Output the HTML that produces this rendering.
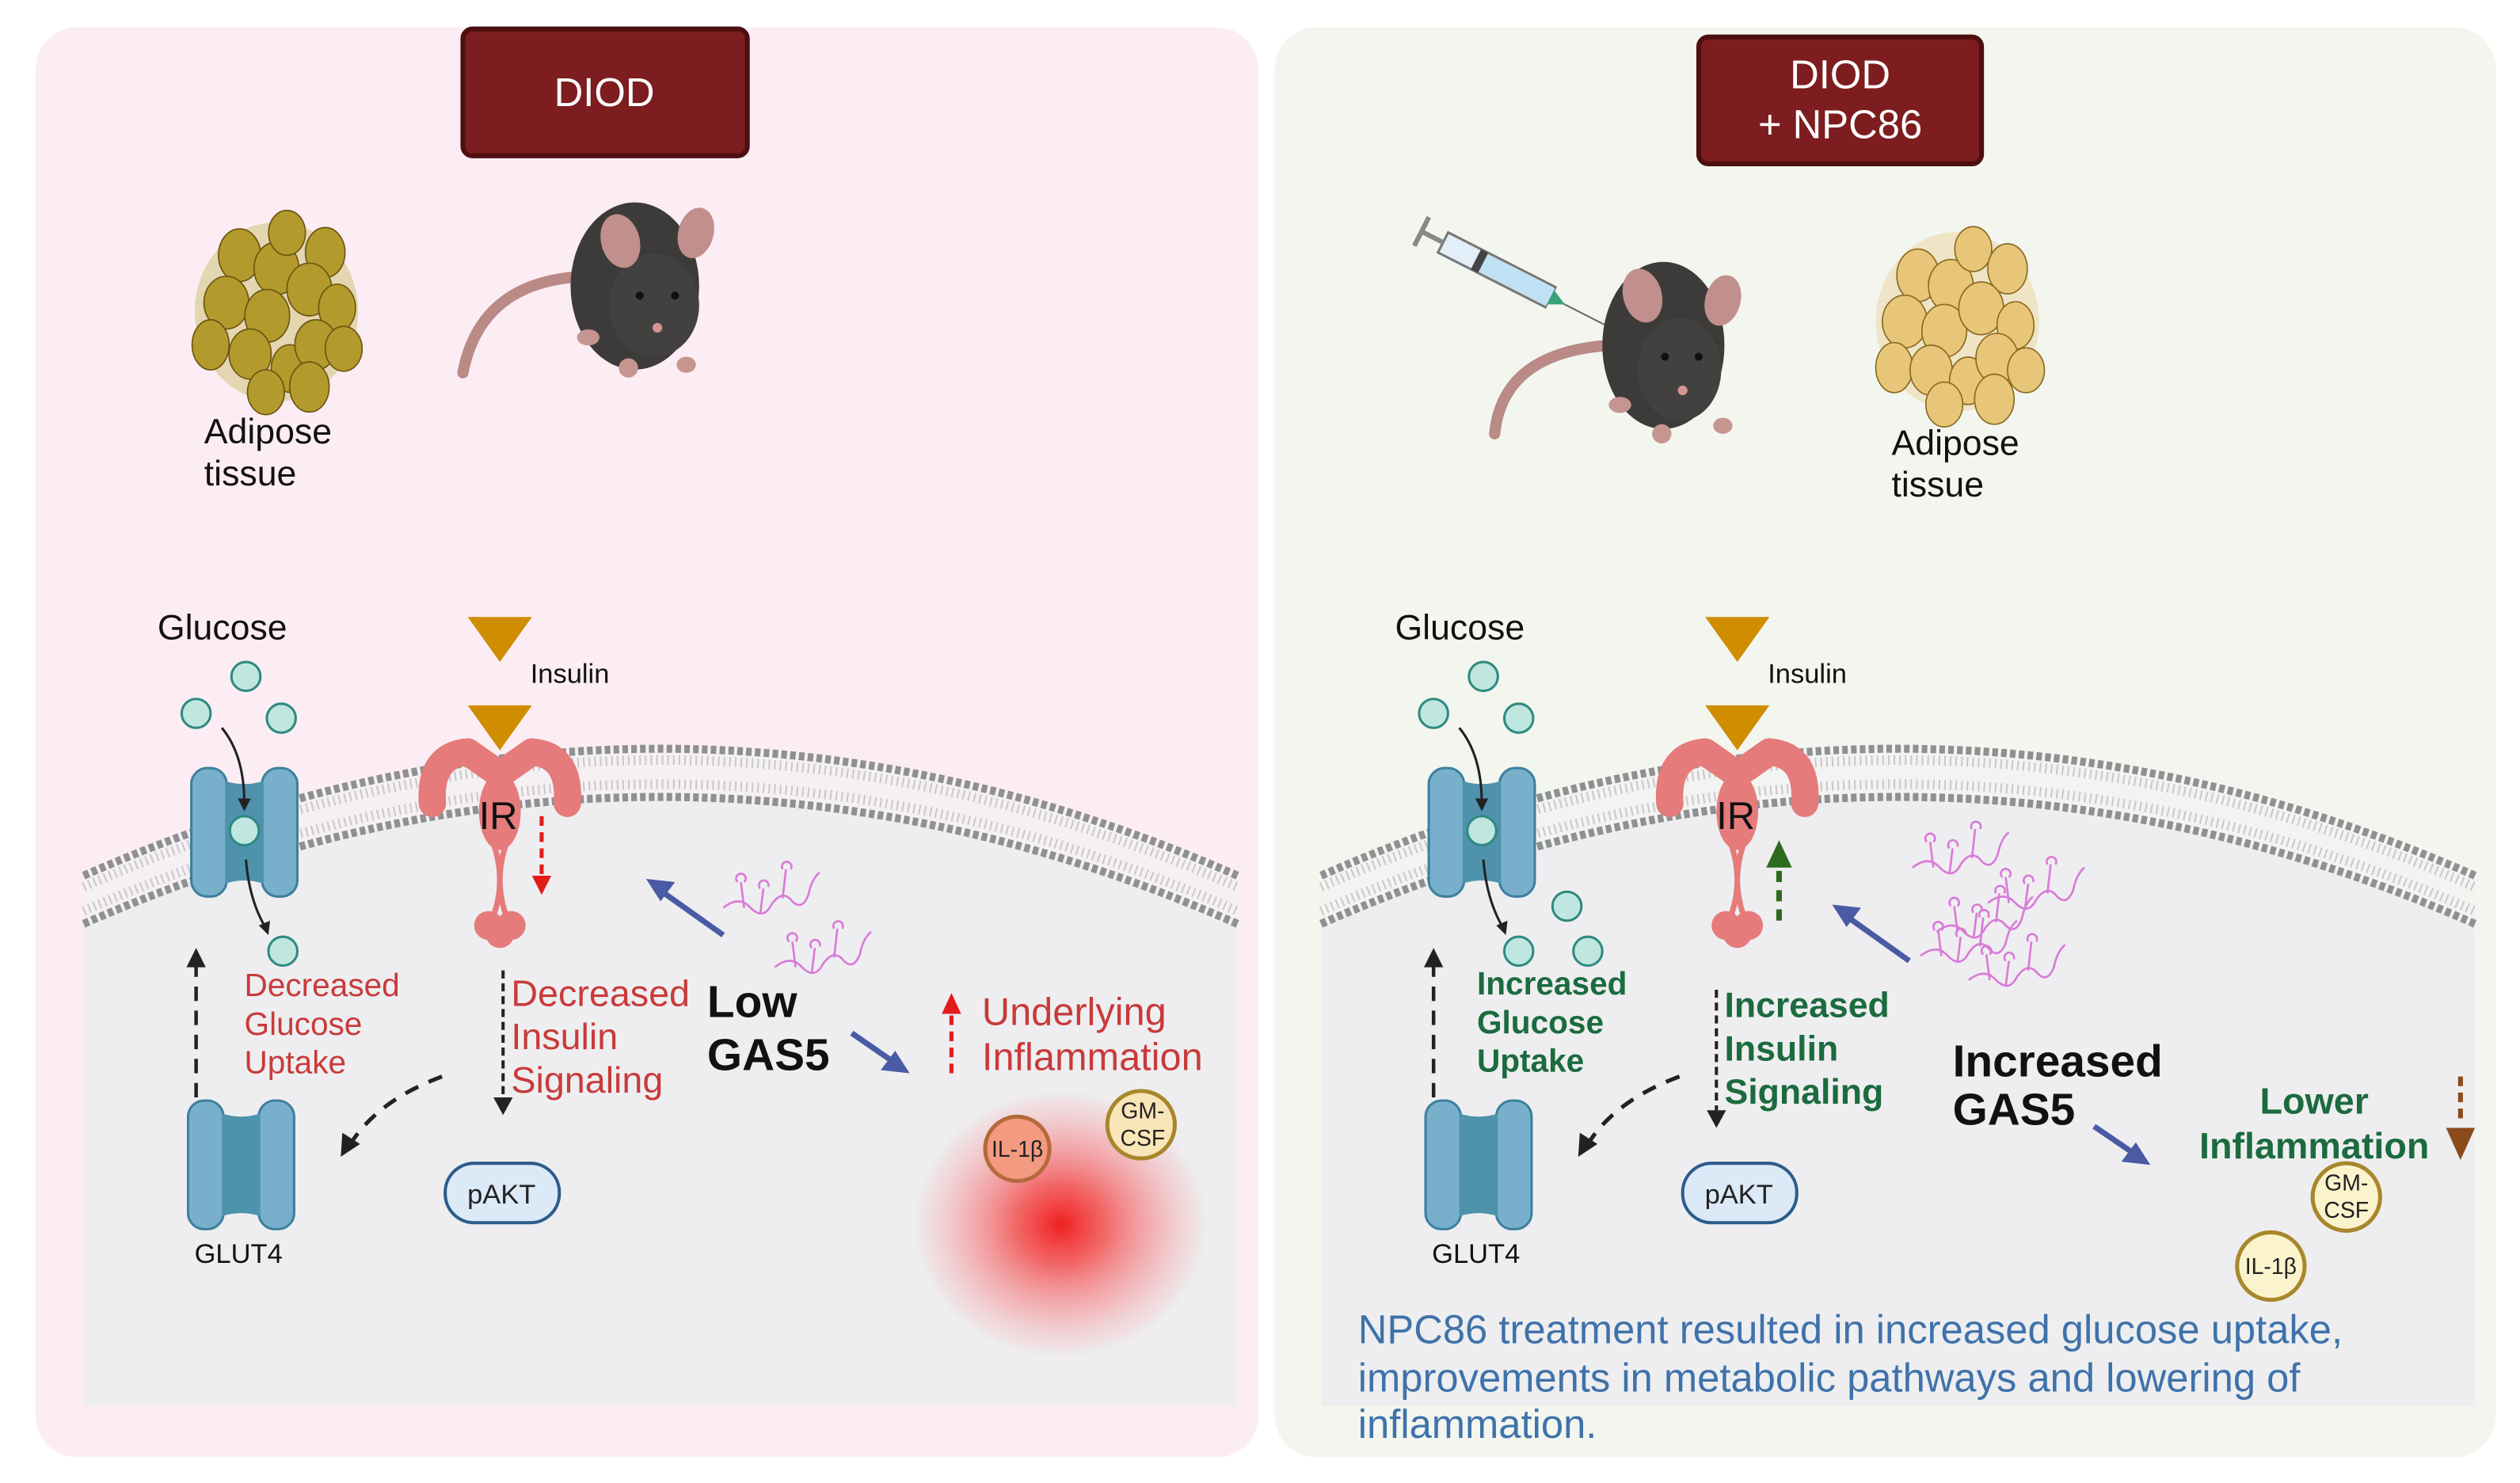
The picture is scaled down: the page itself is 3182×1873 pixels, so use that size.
<!DOCTYPE html>
<html><head><meta charset="utf-8"><style>
html,body{margin:0;padding:0;background:#fff}
svg{display:block}
text{font-family:"Liberation Sans",sans-serif}
</style></head><body>
<svg width="3182" height="1873" viewBox="0 0 1568 923" xmlns="http://www.w3.org/2000/svg">
<defs>
<radialGradient id="infl" cx="50%" cy="50%" r="50%">
<stop offset="0" stop-color="#f02020"/><stop offset="0.3" stop-color="#f35858" stop-opacity="0.9"/><stop offset="0.7" stop-color="#f4a0a4" stop-opacity="0.6"/><stop offset="0.92" stop-color="#f2c8cc" stop-opacity="0.35"/><stop offset="1" stop-color="#f0d8dc" stop-opacity="0"/>
</radialGradient>
<g id="chan">
<rect x="-33" y="-40" width="22" height="80" rx="10" fill="#78b0cc" stroke="#3e7f9e" stroke-width="1.5"/>
<rect x="11" y="-40" width="22" height="80" rx="10" fill="#78b0cc" stroke="#3e7f9e" stroke-width="1.5"/>
<path d="M-12,-32 Q0,-28 12,-32 L12,32 Q0,28 -12,32 Z" fill="#4f92ac"/>
</g>
<g id="ir">
<path d="M-42,30 Q-44,0 -20,-2 L0,12 L20,-2 Q44,0 42,30" fill="none" stroke="#e57b7b" stroke-width="17" stroke-linecap="round" stroke-linejoin="round"/>
<ellipse cx="0" cy="35" rx="13" ry="24" fill="#e57b7b"/>
<path d="M-4,55 Q4,78 -4,100 M4,55 Q-4,78 4,100" stroke="#e57b7b" stroke-width="3.5" fill="none"/>
<circle cx="-7" cy="106" r="9" fill="#e57b7b"/><circle cx="7" cy="106" r="9" fill="#e57b7b"/><circle cx="0" cy="111" r="9" fill="#e57b7b"/>
</g>
<path id="tri" d="M-20,0 L20,0 L0,28 Z"/>
<g id="rna" fill="none" stroke="#d97ad9" stroke-width="1.3">
<path d="M-25,10 Q-15,2 -8,10 Q0,18 5,8 Q12,-2 18,6 Q24,12 28,2 Q30,-8 35,-12"/>
<path d="M-12,10 L-14,-6 M-16,-6 a3,3 0 1 1 4,0 M-2,14 L0,-2 M-2,-2 a3,3 0 1 1 5,-1 M12,4 L14,-14 M12,-14 a3,3 0 1 1 5,0"/>
</g>
</defs>

<rect x="22" y="17" width="761" height="890" rx="26" fill="#fcedf4"/>
<rect x="793" y="17" width="760" height="890" rx="26" fill="#f3f6ef"/>

<g>
<path d="M52,558 Q411,400 770,558 L770,875 L52,875 Z" fill="#eeeef0"/>
<path d="M52,545 Q411,387 770,545 L770,575 Q411,417 52,575 Z" fill="#f5f0f3"/>
<path d="M52,545 Q411,387 770,545" fill="none" stroke="#8e9092" stroke-width="5" stroke-dasharray="3.5 2"/>
<path d="M52,575 Q411,417 770,575" fill="none" stroke="#8e9092" stroke-width="5" stroke-dasharray="3.5 2"/>
<path d="M52,552 Q411,394 770,552" fill="none" stroke="#c8c8cc" stroke-width="6" stroke-dasharray="1 2.5"/>
<path d="M52,567 Q411,409 770,567" fill="none" stroke="#c8c8cc" stroke-width="6" stroke-dasharray="1 2.5"/>
</g>
<g transform="translate(770,0)">
<path d="M52,558 Q411,400 770,558 L770,875 L52,875 Z" fill="#eeeef0"/>
<path d="M52,545 Q411,387 770,545 L770,575 Q411,417 52,575 Z" fill="#f3f3f1"/>
<path d="M52,545 Q411,387 770,545" fill="none" stroke="#8e9092" stroke-width="5" stroke-dasharray="3.5 2"/>
<path d="M52,575 Q411,417 770,575" fill="none" stroke="#8e9092" stroke-width="5" stroke-dasharray="3.5 2"/>
<path d="M52,552 Q411,394 770,552" fill="none" stroke="#c8c8cc" stroke-width="6" stroke-dasharray="1 2.5"/>
<path d="M52,567 Q411,409 770,567" fill="none" stroke="#c8c8cc" stroke-width="6" stroke-dasharray="1 2.5"/>
</g>

<rect x="288" y="18" width="177" height="79" rx="6" fill="#7d1d1f" stroke="#4d0f10" stroke-width="3"/>
<text x="376" y="66" font-size="25" fill="#fff" text-anchor="middle">DIOD</text>
<rect x="1057" y="23" width="176" height="79" rx="6" fill="#7d1d1f" stroke="#4d0f10" stroke-width="3"/>
<text x="1145" y="55" font-size="25" fill="#fff" text-anchor="middle">DIOD</text>
<text x="1145" y="86" font-size="25" fill="#fff" text-anchor="middle">+ NPC86</text>

<g transform="translate(172,190) scale(0.82)" stroke="#6b5510" stroke-width="1">
<ellipse cx="0" cy="5" rx="62" ry="68" fill="#e3d6b0" stroke="none"/>
<g fill="#b39a2c">
<ellipse cx="-28" cy="-38" rx="16" ry="20"/><ellipse cx="0" cy="-28" rx="17" ry="20"/><ellipse cx="8" cy="-55" rx="14" ry="17"/><ellipse cx="37" cy="-40" rx="15" ry="19"/>
<ellipse cx="-38" cy="-2" rx="17" ry="20"/><ellipse cx="-7" cy="8" rx="17" ry="20"/><ellipse cx="25" cy="-12" rx="17" ry="20"/><ellipse cx="46" cy="2" rx="14" ry="18"/>
<ellipse cx="-50" cy="30" rx="14" ry="19"/><ellipse cx="-20" cy="37" rx="16" ry="19"/><ellipse cx="10" cy="48" rx="14" ry="18"/><ellipse cx="30" cy="30" rx="16" ry="19"/><ellipse cx="51" cy="33" rx="14" ry="17"/>
<ellipse cx="-8" cy="66" rx="14" ry="17"/><ellipse cx="25" cy="62" rx="15" ry="19"/>
</g></g>
<text x="127" y="276" font-size="22" fill="#111">Adipose</text>
<text x="127" y="302" font-size="22" fill="#111">tissue</text>

<g>
<path d="M288,232 Q300,170 375,172" fill="none" stroke="#b98a86" stroke-width="7" stroke-linecap="round"/>
<ellipse cx="395" cy="178" rx="40" ry="52" fill="#3d3b3a"/>
<ellipse cx="407" cy="190" rx="28" ry="32" fill="#43413f"/>
<ellipse cx="386" cy="150" rx="12" ry="17" fill="#c18f8c" transform="rotate(-15 386 150)"/>
<ellipse cx="433" cy="145" rx="11" ry="16" fill="#c18f8c" transform="rotate(15 433 145)"/>
<circle cx="398" cy="184" r="2.5" fill="#111"/><circle cx="420" cy="184" r="2.5" fill="#111"/>
<circle cx="409" cy="204" r="3" fill="#d49595"/>
<ellipse cx="366" cy="210" rx="7" ry="5" fill="#c6958f"/><ellipse cx="391" cy="229" rx="6" ry="6" fill="#c6958f"/><ellipse cx="427" cy="227" rx="6" ry="5" fill="#c6958f"/>
</g>

<g transform="rotate(27 930 165)">
<rect x="895" y="160" width="75" height="14" fill="#e2eef8" stroke="#777" stroke-width="1.5"/>
<rect x="920" y="161" width="50" height="12" fill="#bfe1f4"/>
<rect x="918" y="160" width="5" height="14" fill="#444"/>
<line x1="880" y1="167" x2="895" y2="167" stroke="#888" stroke-width="3"/>
<line x1="880" y1="157" x2="880" y2="177" stroke="#888" stroke-width="3"/>
<line x1="970" y1="167" x2="1015" y2="167" stroke="#666" stroke-width="1"/>
<path d="M970,162 L980,167 L970,172 Z" fill="#3aa07a"/>
</g>
<g>
<path d="M930,270 Q935,220 1000,215" fill="none" stroke="#b98a86" stroke-width="7" stroke-linecap="round"/>
<ellipse cx="1035" cy="215" rx="38" ry="52" fill="#3d3b3a"/>
<ellipse cx="1045" cy="230" rx="26" ry="32" fill="#43413f"/>
<ellipse cx="1022" cy="184" rx="12" ry="17" fill="#c18f8c" transform="rotate(-15 1022 184)"/>
<ellipse cx="1072" cy="187" rx="11" ry="16" fill="#c18f8c" transform="rotate(15 1072 187)"/>
<circle cx="1036" cy="222" r="2.5" fill="#111"/><circle cx="1057" cy="222" r="2.5" fill="#111"/>
<circle cx="1047" cy="243" r="3" fill="#d49595"/>
<ellipse cx="1008" cy="252" rx="7" ry="5" fill="#c6958f"/><ellipse cx="1034" cy="270" rx="6" ry="6" fill="#c6958f"/><ellipse cx="1072" cy="265" rx="6" ry="5" fill="#c6958f"/>
</g>

<g transform="translate(1218,196) scale(0.82)" stroke="#8a6a20" stroke-width="1">
<ellipse cx="0" cy="5" rx="62" ry="68" fill="#efe4c6" stroke="none"/>
<g fill="#e7c679">
<ellipse cx="-30" cy="-30" rx="16" ry="20"/><ellipse cx="-5" cy="-22" rx="17" ry="20"/><ellipse cx="12" cy="-50" rx="14" ry="17"/><ellipse cx="38" cy="-35" rx="15" ry="19"/>
<ellipse cx="-40" cy="5" rx="17" ry="20"/><ellipse cx="-10" cy="12" rx="17" ry="20"/><ellipse cx="18" cy="-5" rx="17" ry="20"/><ellipse cx="44" cy="8" rx="14" ry="18"/>
<ellipse cx="-48" cy="40" rx="14" ry="19"/><ellipse cx="-20" cy="42" rx="16" ry="19"/><ellipse cx="8" cy="50" rx="14" ry="18"/><ellipse cx="30" cy="33" rx="16" ry="19"/><ellipse cx="52" cy="42" rx="14" ry="17"/>
<ellipse cx="-10" cy="68" rx="14" ry="17"/><ellipse cx="28" cy="64" rx="15" ry="19"/>
</g></g>
<text x="1177" y="283" font-size="22" fill="#111">Adipose</text>
<text x="1177" y="309" font-size="22" fill="#111">tissue</text>

<g id="common">
<text x="98" y="398" font-size="22" fill="#111">Glucose</text>
<g fill="#bfe6df" stroke="#2e8a80" stroke-width="1.5">
<circle cx="153" cy="421" r="9"/><circle cx="122" cy="444" r="9"/><circle cx="175" cy="447" r="9"/>
</g>
<use href="#chan" x="152" y="518"/>
<circle cx="152" cy="517" r="9" fill="#bfe6df" stroke="#2e8a80" stroke-width="1.5"/>
<path d="M138,453 Q152,470 152,500" fill="none" stroke="#222" stroke-width="1.5"/>
<path d="M148,497 L152,505 L156,497 Z" fill="#222"/>
<path d="M153,535 Q155,560 165,577" fill="none" stroke="#222" stroke-width="1.5"/>
<path d="M161,576 L167,582 L168,573 Z" fill="#222"/>
<use href="#tri" x="311" y="384" fill="#d08d00"/>
<use href="#tri" x="311" y="439" fill="#d08d00"/>
<text x="330" y="425" font-size="17" fill="#111">Insulin</text>
<use href="#ir" x="311" y="470"/>
<text x="298" y="516" font-size="24" fill="#111">IR</text>
<use href="#chan" x="150" y="725"/>
<text x="121" y="786" font-size="17" fill="#111">GLUT4</text>
<line x1="122" y1="683" x2="122" y2="600" stroke="#222" stroke-width="2.2" stroke-dasharray="9 6"/>
<path d="M116,602 L122,590 L128,602 Z" fill="#222"/>
<path d="M275,670 Q235,685 218,712" fill="none" stroke="#222" stroke-width="2.5" stroke-dasharray="9 7"/>
<path d="M212,720 L213,705 L224,712 Z" fill="#222"/>
<rect x="277" y="724" width="71" height="37" rx="18" fill="#dce9f7" stroke="#2c5c8c" stroke-width="2"/>
<text x="312" y="749" font-size="17" fill="#222" text-anchor="middle">pAKT</text>
</g>
<use href="#common" x="770" y="0"/>

<!-- pAKT dashed arrows -->
<line x1="313" y1="604" x2="313" y2="683" stroke="#222" stroke-width="2" stroke-dasharray="5 3"/>
<path d="M307,683 L313,694 L319,683 Z" fill="#222"/>
<line x1="1068" y1="616" x2="1068" y2="691" stroke="#222" stroke-width="2" stroke-dasharray="5 3"/>
<path d="M1062,691 L1068,702 L1074,691 Z" fill="#222"/>

<line x1="337" y1="508" x2="337" y2="546" stroke="#e41b1b" stroke-width="2.5" stroke-dasharray="6 4"/>
<path d="M331,545 L337,557 L343,545 Z" fill="#e41b1b"/>
<circle cx="176" cy="592" r="9" fill="#bfe6df" stroke="#2e8a80" stroke-width="1.5"/>
<g font-size="20" fill="#c93a3a">
<text x="152" y="620">Decreased</text><text x="152" y="644">Glucose</text><text x="152" y="668">Uptake</text>
</g>
<g font-size="23" fill="#c93a3a">
<text x="318" y="626">Decreased</text><text x="318" y="653">Insulin</text><text x="318" y="680">Signaling</text>
</g>
<g font-size="28" font-weight="bold" fill="#111">
<text x="440" y="633">Low</text><text x="440" y="666">GAS5</text>
</g>
<line x1="450" y1="582" x2="412" y2="555" stroke="#4a5aa4" stroke-width="3.5"/>
<path d="M402,547 L420,549 L411,561 Z" fill="#4a5aa4"/>
<line x1="530" y1="643" x2="556" y2="661" stroke="#4a5aa4" stroke-width="3.5"/>
<path d="M566,668 L548,666 L557,654 Z" fill="#4a5aa4"/>
<use href="#rna" x="475" y="555"/>
<use href="#rna" x="507" y="592"/>
<line x1="592" y1="668" x2="592" y2="630" stroke="#e41b1b" stroke-width="2.5" stroke-dasharray="6 4"/>
<path d="M586,631 L592,618 L598,631 Z" fill="#e41b1b"/>
<g font-size="24" fill="#c93a3a">
<text x="611" y="638">Underlying</text><text x="611" y="666">Inflammation</text>
</g>
<ellipse cx="660" cy="762" rx="92" ry="84" fill="url(#infl)"/>
<circle cx="633" cy="715" r="20" fill="#f39a80" stroke="#b46a3a" stroke-width="2.5"/>
<text x="633" y="720" font-size="14" fill="#222" text-anchor="middle">IL-1β</text>
<circle cx="710" cy="700" r="21" fill="#f9e6b8" stroke="#a8872c" stroke-width="2.5"/>
<text x="711" y="696" font-size="14" fill="#222" text-anchor="middle">GM-</text>
<text x="711" y="713" font-size="14" fill="#222" text-anchor="middle">CSF</text>

<g fill="#bfe6df" stroke="#2e8a80" stroke-width="1.5">
<circle cx="975" cy="564" r="9"/><circle cx="945" cy="592" r="9"/><circle cx="988" cy="592" r="9"/>
</g>
<g font-size="20" font-weight="bold" fill="#1b6b3e">
<text x="919" y="619">Increased</text><text x="919" y="643">Glucose</text><text x="919" y="667">Uptake</text>
</g>
<line x1="1107" y1="573" x2="1107" y2="540" stroke="#2d6b1f" stroke-width="3.5" stroke-dasharray="7 5"/>
<path d="M1099,540 L1107,523 L1115,540 Z" fill="#2d6b1f"/>
<g font-size="22" font-weight="bold" fill="#1b6b3e">
<text x="1073" y="633">Increased</text><text x="1073" y="660">Insulin</text><text x="1073" y="687">Signaling</text>
</g>
<line x1="1188" y1="598" x2="1150" y2="571" stroke="#4a5aa4" stroke-width="3.5"/>
<path d="M1140,563 L1158,565 L1149,577 Z" fill="#4a5aa4"/>
<use href="#rna" x="1215" y="530"/>
<use href="#rna" x="1262" y="552"/>
<use href="#rna" x="1220" y="585"/>
<use href="#rna" x="1250" y="600"/>
<use href="#rna" x="1230" y="570"/>
<g font-size="28" font-weight="bold" fill="#111">
<text x="1215" y="670">Increased</text><text x="1215" y="700">GAS5</text>
</g>
<line x1="1303" y1="701" x2="1328" y2="718" stroke="#4a5aa4" stroke-width="3.5"/>
<path d="M1338,725 L1320,723 L1329,711 Z" fill="#4a5aa4"/>
<g font-size="23" font-weight="bold" fill="#1b6b3e" text-anchor="middle">
<text x="1440" y="693">Lower</text><text x="1440" y="721">Inflammation</text>
</g>
<line x1="1531" y1="670" x2="1531" y2="700" stroke="#8b4a1c" stroke-width="3" stroke-dasharray="6 4"/>
<path d="M1522,702 L1540,702 L1531,722 Z" fill="#8b4a1c"/>
<circle cx="1460" cy="745" r="21" fill="#fbf3cc" stroke="#a8872c" stroke-width="2.5"/>
<text x="1460" y="741" font-size="14" fill="#222" text-anchor="middle">GM-</text>
<text x="1460" y="758" font-size="14" fill="#222" text-anchor="middle">CSF</text>
<circle cx="1413" cy="788" r="21" fill="#fbf3cc" stroke="#a8872c" stroke-width="2.5"/>
<text x="1413" y="793" font-size="14" fill="#222" text-anchor="middle">IL-1β</text>
<g font-size="25" fill="#3f72aa">
<text x="845" y="836">NPC86 treatment resulted in increased glucose uptake,</text>
<text x="845" y="866">improvements in metabolic pathways and lowering of</text>
<text x="845" y="895">inflammation.</text>
</g>
</svg>
</body></html>
